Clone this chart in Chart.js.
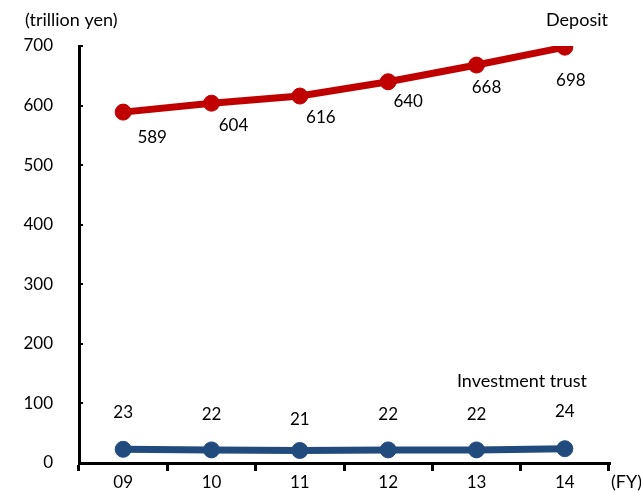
<!DOCTYPE html>
<html><head><meta charset="utf-8">
<script src="https://cdn.jsdelivr.net/npm/chart.js@4"></script>
<style>html,body{margin:0;padding:0;background:#fff;}canvas{display:block;}</style>
</head><body>
<canvas id="c" width="641" height="493"></canvas>
<script>
const categories = ['09','10','11','12','13','14'];
const deposit = [589, 604, 616, 640, 668, 698];
const investmentTrust = [23, 22, 21, 22, 22, 24];
const yTicks = [0,100,200,300,400,500,600,700];
const depositLabelOffsets = [[29,25],[22,22],[21,21],[20,20],[10,22],[6,33]];
const trustLabelOffsets = [-37,-35,-31,-35,-35,-37];
const FONT = 'Lato, "Liberation Sans", sans-serif';

const labelPlugin = {
  id: 'labels',
  afterDraw(chart) {
    const ctx = chart.ctx;
    const y = chart.scales.y;
    ctx.save();
    ctx.strokeStyle = '#000'; ctx.lineWidth = 2;
    yTicks.forEach(v => {
      const py = Math.round(y.getPixelForValue(v));
      ctx.beginPath(); ctx.moveTo(chart.chartArea.left, py); ctx.lineTo(chart.chartArea.left + 4, py); ctx.stroke();
    });
    ctx.fillStyle = '#000';
    ctx.font = '17px ' + FONT;
    ctx.textAlign = 'center'; ctx.textBaseline = 'middle';
    const m0 = chart.getDatasetMeta(0).data;
    deposit.forEach((v, i) => {
      const p = m0[i];
      ctx.fillText(String(v), p.x + depositLabelOffsets[i][0], p.y + depositLabelOffsets[i][1]);
    });
    const m1 = chart.getDatasetMeta(1).data;
    investmentTrust.forEach((v, i) => {
      const p = m1[i];
      ctx.fillText(String(v), p.x, p.y + trustLabelOffsets[i]);
    });
    ctx.font = '18px ' + FONT;
    ctx.fillText('Deposit', 577, 20);
    ctx.fillText('Investment trust', 522, 381);
    ctx.textAlign = 'left';
    ctx.fillText('(trillion yen)', 25, 20);
    ctx.fillText('(FY)', 611, 482);
    ctx.restore();
  }
};

new Chart(document.getElementById('c'), {
  type: 'line',
  data: {
    labels: categories,
    datasets: [
      { label: 'Deposit', data: deposit, borderColor: '#C00000', backgroundColor: '#C00000',
        pointBackgroundColor: '#C00000', pointBorderColor: '#C00000', borderWidth: 7, pointRadius: 8, pointBorderWidth: 1, tension: 0 },
      { label: 'Investment trust', data: investmentTrust, borderColor: '#224B7D', backgroundColor: '#224B7D',
        pointBackgroundColor: '#224B7D', pointBorderColor: '#224B7D', borderWidth: 7, pointRadius: 8, pointBorderWidth: 1, tension: 0 }
    ]
  },
  options: {
    responsive: false, animation: false,
    layout: { padding: { left: 0, right: 32, top: 46, bottom: 0 } },
    plugins: { legend: { display: false }, tooltip: { enabled: false } },
    scales: {
      x: {
        offset: true,
        grid: { display: true, offset: true, drawOnChartArea: false, tickLength: 8, color: '#000', lineWidth: 3 },
        border: { display: true, color: '#000', width: 3 },
        ticks: { color: '#000', font: { size: 17, family: FONT }, padding: 1 },
        afterFit(s) { s.height = 30; }
      },
      y: {
        min: 0, max: 700,
        afterBuildTicks(s) { s.ticks = yTicks.map(v => ({ value: v })); },
        grid: { display: false, drawOnChartArea: false, drawTicks: false },
        border: { display: true, color: '#000', width: 3 },
        ticks: { color: '#000', font: { size: 17, family: FONT }, padding: 26 },
        afterFit(s) { s.width = 79; s.paddingTop = 0; s.paddingBottom = 0; }
      }
    }
  },
  plugins: [labelPlugin]
});
</script>
</body></html>
